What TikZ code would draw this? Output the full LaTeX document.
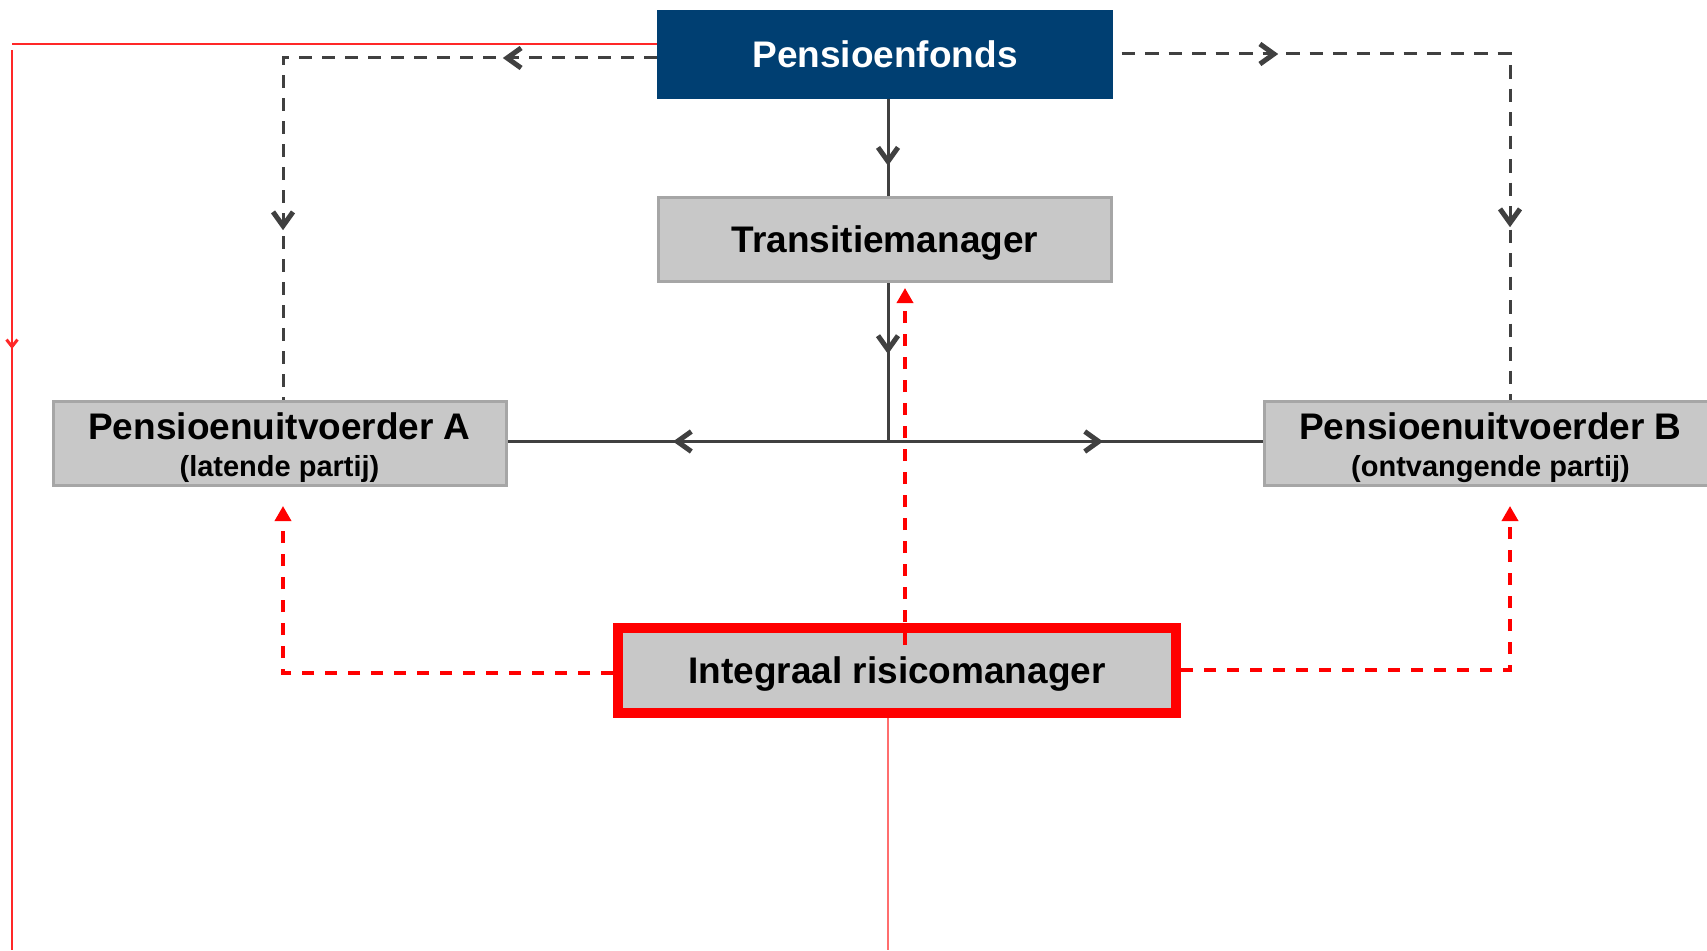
\documentclass[tikz,border=0pt]{standalone}
\usepackage{fontspec}
\setmainfont{Liberation Sans}
\usetikzlibrary{arrows.meta,decorations.markings,calc}
\definecolor{pfblue}{RGB}{0,63,114}
\definecolor{boxgray}{RGB}{200,200,200}
\definecolor{boxedge}{RGB}{166,166,166}
\definecolor{lgray}{RGB}{64,64,64}
\definecolor{thinred}{RGB}{255,40,40}
\definecolor{palered}{RGB}{255,110,110}
\definecolor{mainred}{RGB}{255,0,0}
\tikzset{
  onemark/.style 2 args={postaction={decorate,decoration={markings,mark=at position #1 with {\arrow{#2}}}}},
  twomarks/.style n args={4}{postaction={decorate,decoration={markings,
      mark=at position #1 with {\arrow{#2}},mark=at position #3 with {\arrow{#4}}}}},
  bigfont/.style={font=\bfseries\fontsize{37}{37}\selectfont},
  onebox/.style={bigfont,inner sep=0pt,text height=26pt,text depth=0pt},
  greybox/.style={fill=boxgray,draw=boxedge,line width=3pt,inner sep=0pt,
    minimum width=453pt,minimum height=84pt},
  greyline/.style={draw=lgray,line width=3pt},
  greydash/.style={draw=lgray,line width=3pt,dash pattern=on 13pt off 10pt},
  reddash/.style={draw=mainred,line width=3.5pt,dash pattern=on 12pt off 11pt,
    -{Triangle[length=15pt,width=16pt]}},
}
\def\gtip{Straight Barb[length=14pt,width=20pt,line width=5pt]}
\def\rtip{Straight Barb[length=7pt,width=11pt,line width=3pt]}
\begin{document}
\begin{tikzpicture}[x=1pt,y=-1pt]
\useasboundingbox (0,0) rectangle (1707,950);
% boxes
\node[onebox,fill=pfblue,text=white,minimum width=456pt,minimum height=88pt] (pf) at (885,54.5) {Pensioenfonds};
\node[greybox,onebox] (tm) at (885,239.5) {Transitiemanager};
\node[greybox,bigfont,align=center] (pa) at (279.5,443.5)
  {\rule{0pt}{35pt}Pensioenuitvoerder A\\{\fontsize{29}{37}\selectfont (latende partij)}};
\node[greybox,bigfont,align=center] (pb) at (1490.5,443.5)
  {\rule{0pt}{35pt}Pensioenuitvoerder B\\{\fontsize{29}{37}\selectfont (ontvangende partij)}};
\node[onebox,fill=boxgray,draw=mainred,line width=10pt,minimum width=558pt,minimum height=85pt] (irm) at (897,670.5) {Integraal risicomanager};
% coordinates
\coordinate (j) at (888,441.5);
\coordinate (dl) at (283,58);
\coordinate (dr) at (1510,54);
\coordinate (rt) at (905,645);
\coordinate (rl) at (283,673);
\coordinate (rr) at (1510,670);
\coordinate (lt) at (12,44);
\coordinate (lv) at (12,50);
\coordinate (lb) at (12,950);
\coordinate (bb) at (888,950);
% solid grey connectors
\draw[greyline,onemark={67pt}{\gtip}] (pf.south -| j) -- (tm.north -| j);
\draw[greyline,onemark={71pt}{\gtip}] (tm.south -| j) -- (j);
\draw[greyline,onemark={215pt}{\gtip}] (j) -- (j -| pa.east);
\draw[greyline,onemark={215pt}{\gtip}] (j) -- (j -| pb.west);
% dashed grey connectors
\draw[greydash,twomarks={154pt}{\gtip}{546pt}{\gtip}]
  (pf.west |- dl) -- (dl) -- (dl |- pa.north);
\draw[greydash,dash pattern=on 13.5pt off 10pt,dash phase=15pt,twomarks={165pt}{\gtip}{570pt}{\gtip}]
  (pf.east |- dr) -- (dr) -- (dr |- pb.north);
% red dashed connectors
\draw[reddash,shorten >=5pt] (rt) -- (rt |- tm.south);
\draw[reddash,shorten >=19pt] (irm.west |- rl) -- (rl) -- (rl |- pa.south);
\draw[reddash,shorten >=19pt] (irm.east |- rr) -- (rr) -- (rr |- pb.south);
% thin red lines
\draw[draw=thinred,line width=2pt] (pf.west |- lt) -- (lt);
\draw[draw=thinred,line width=2pt,onemark={299pt}{\rtip}] (lv) -- (lb);
\draw[draw=palered,line width=1.6pt] (irm.south -| bb) -- (bb);
\end{tikzpicture}
\end{document}
